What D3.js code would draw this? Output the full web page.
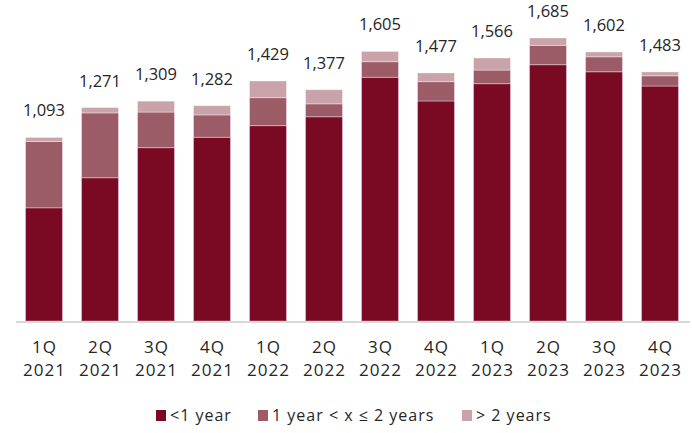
<!DOCTYPE html>
<html>
<head>
<meta charset="utf-8">
<script src="https://cdn.jsdelivr.net/npm/d3@7"></script>
<style>
  html, body { margin: 0; padding: 0; background: #fff; }
  svg text { font-family: "Open Sans", sans-serif; fill: #262626; }
</style>
</head>
<body>
<svg id="chart" width="692" height="433"></svg>
<script>
const categories = ["1Q\n2021","2Q\n2021","3Q\n2021","4Q\n2021","1Q\n2022","2Q\n2022","3Q\n2022","4Q\n2022","1Q\n2023","2Q\n2023","3Q\n2023","4Q\n2023"];
const lessThan1 = [674, 853, 1032, 1094, 1163, 1216, 1451, 1310, 1413, 1526, 1484, 1399];
const oneToTwo  = [395, 386, 212, 133, 167, 77, 93, 115, 81, 115, 89, 61];
const overTwo   = [24, 32, 65, 55, 99, 84, 61, 52, 72, 44, 29, 23];
const totals    = [1093, 1271, 1309, 1282, 1429, 1377, 1605, 1477, 1566, 1685, 1602, 1483];
const seriesNames = ["<1 year", "1 year < x \u2264 2 years", "> 2 years"];
const colors = ["#7a0a24", "#9b5c68", "#c9a3a9"];

const svg = d3.select("#chart");
const x = d3.scaleBand().domain(categories).range([16, 688]).paddingInner(0.34).paddingOuter(0.17);
const y = d3.scaleLinear().domain([0, 1685]).range([321, 38]);

const rows = categories.map((c, i) => ({cat: c, s0: lessThan1[i], s1: oneToTwo[i], s2: overTwo[i], total: totals[i]}));
const stack = d3.stack().keys(["s0", "s1", "s2"])(rows);

svg.append("g").selectAll("g").data(stack).join("g")
  .attr("fill", (d, i) => colors[i])
  .selectAll("rect").data(d => d).join("rect")
  .attr("x", d => x(d.data.cat))
  .attr("width", x.bandwidth())
  .attr("y", d => y(d[1]))
  .attr("height", d => y(d[0]) - y(d[1]))
  .attr("stroke", "rgba(255,255,255,0.35)")
  .attr("stroke-width", 1);

// axis line
svg.append("line").attr("x1", 16).attr("x2", 690).attr("y1", 322).attr("y2", 322)
  .attr("stroke", "#d9d9d9").attr("stroke-width", 2);

// totals
svg.append("g").selectAll("text").data(rows).join("text")
  .attr("x", d => x(d.cat) + x.bandwidth() / 2)
  .attr("y", d => y(d.total) - 21)
  .attr("text-anchor", "middle")
  .attr("font-size", 16.5)
  .text(d => d3.format(",")(d.total));

// x labels
const xl = svg.append("g").selectAll("text").data(categories).join("text")
  .attr("x", d => x(d) + x.bandwidth() / 2)
  .attr("y", 353)
  .attr("text-anchor", "middle")
  .attr("font-size", 17)
  .attr("letter-spacing", 1);
xl.selectAll("tspan").data(d => d.split("\n")).join("tspan")
  .attr("x", function() { return +d3.select(this.parentNode).attr("x") + 0.5; })
  .attr("dy", (d, i) => i === 0 ? 0 : 23)
  .text(d => d);

// legend
const legendX = [156, 258, 462];
const lg = svg.append("g").selectAll("g").data(seriesNames).join("g")
  .attr("transform", (d, i) => `translate(${legendX[i]},421)`);
lg.append("rect").attr("x", 0).attr("y", -11).attr("width", 10).attr("height", 11)
  .attr("fill", (d, i) => colors[i]);
lg.append("text").attr("x", 14).attr("y", 0).attr("font-size", 16)
  .attr("letter-spacing", 1).text(d => d);
</script>
</body>
</html>
